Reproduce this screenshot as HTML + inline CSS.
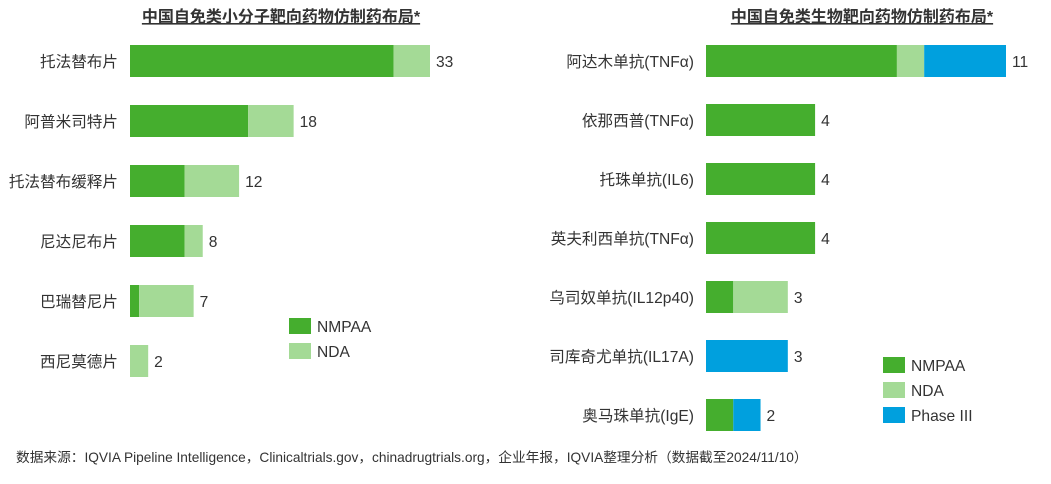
<!DOCTYPE html>
<html><head><meta charset="utf-8"><style>
body{margin:0;width:1051px;height:479px;background:#fff;overflow:hidden;font-family:"Liberation Sans","Noto Sans CJK SC",sans-serif;}
svg text{font-family:"Liberation Sans","Noto Sans CJK SC",sans-serif;}
</style></head><body>
<svg id="c" width="1051" height="479">
<text x="281" y="22" text-anchor="middle" font-size="16" font-weight="bold" fill="#333" text-decoration="underline">中国自免类小分子靶向药物仿制药布局*</text>
<text x="862" y="22" text-anchor="middle" font-size="16" font-weight="bold" fill="#333" text-decoration="underline">中国自免类生物靶向药物仿制药布局*</text>
<text x="16" y="462" font-size="13.7" fill="#333">数据来源：IQVIA Pipeline Intelligence，Clinicaltrials.gov，chinadrugtrials.org，企业年报，IQVIA整理分析（数据截至2024/11/10）</text>
</svg>
<script>
const leftCats=["托法替布片","阿普米司特片","托法替布缓释片","尼达尼布片","巴瑞替尼片","西尼莫德片"];
const leftNMPAA=[29,13,6,6,1,0];
const leftNDA=[4,5,6,2,6,2];
const rightCats=["阿达木单抗(TNFα)","依那西普(TNFα)","托珠单抗(IL6)","英夫利西单抗(TNFα)","乌司奴单抗(IL12p40)","司库奇尤单抗(IL17A)","奥马珠单抗(IgE)"];
const rightNMPAA=[7,4,4,4,1,0,1];
const rightNDA=[1,0,0,0,2,0,0];
const rightP3=[3,0,0,0,0,3,1];
const colors={NMPAA:"#45AE2E",NDA:"#A4DA96",P3:"#00A0DE"};
const svg=document.getElementById('c');
const NS="http://www.w3.org/2000/svg";
function mk(t,a){const e=document.createElementNS(NS,t);for(const k in a)e.setAttribute(k,a[k]);svg.appendChild(e);return e;}
function drawChart(side,cats,series,x0,unit,y0,step){
  const xs=v=>x0+v*unit;
  cats.forEach((c,i)=>{
    const yc=y0+i*step;
    const lab=mk('text',{x:x0-12,y:yc+6,'text-anchor':'end','font-size':15.6,fill:'#333'});
    lab.textContent=c;
    
    
    let acc=0;
    series.forEach(s=>{
      const v=s.vals[i];
      if(v>0){
        const r=mk('rect',{x:xs(acc),y:yc-16,width:xs(acc+v)-xs(acc),height:32,fill:s.color});
        
        
      }
      acc+=v;
    });
    const t=mk('text',{x:xs(acc)+6,y:yc+6,'font-size':15.6,fill:'#333'});
    t.textContent=acc;
    
    
  });
}
drawChart('left',leftCats,[{name:'NMPAA',vals:leftNMPAA,color:colors.NMPAA},{name:'NDA',vals:leftNDA,color:colors.NDA}],130,300/33,61,60);
drawChart('right',rightCats,[{name:'NMPAA',vals:rightNMPAA,color:colors.NMPAA},{name:'NDA',vals:rightNDA,color:colors.NDA},{name:'Phase',vals:rightP3,color:colors.P3}],706,300/11,61,59);
function legend(side,x,y,items){
  items.forEach((it,i)=>{
    const r=mk('rect',{x:x,y:y+i*25,width:22,height:16,fill:it[1]});
    
    
    const t=mk('text',{x:x+28,y:y+i*25+14,'font-size':15.6,fill:'#333'});
    t.textContent=it[0];
    
    
  });
}
legend('left',289,318,[["NMPAA",colors.NMPAA],["NDA",colors.NDA]]);
legend('right',883,357,[["NMPAA",colors.NMPAA],["NDA",colors.NDA],["Phase III",colors.P3]]);
</script>
</body></html>
